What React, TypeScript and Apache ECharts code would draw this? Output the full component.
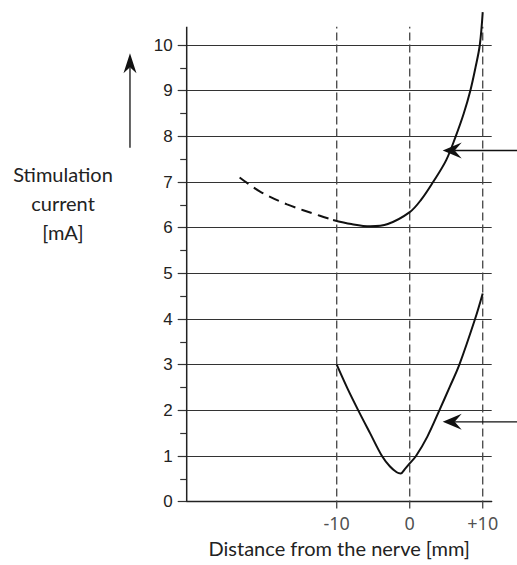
import React, { useEffect, useRef } from "react";
import * as echarts from "echarts";

// Upper curve (dashed part, then solid part)
const upperDashedX = [-23.3, -20.5, -16.8, -12.3, -10.5];
const upperDashedY = [7.1, 6.79, 6.51, 6.26, 6.17];
const upperSolidX = [-10.5, -8, -5.4, -3, 0, 1.6, 3.2, 5, 6.3, 7.4, 8.3, 9.0, 9.6, 10.0];
const upperSolidY = [6.17, 6.08, 6.03, 6.08, 6.34, 6.62, 7.0, 7.48, 8.0, 8.5, 9.0, 9.5, 10.0, 10.72];
// Lower curve
const lowerX = [-10, -8.5, -7.05, -5.4, -3.8, -2.7, -1.78, -1.23, -0.64, 0, 0.86, 2.4, 4.06, 5.5, 6.8, 8.95, 10];
const lowerY = [3.0, 2.47, 2.0, 1.49, 1.0, 0.77, 0.645, 0.62, 0.72, 0.84, 1.0, 1.42, 2.0, 2.52, 3.0, 4.0, 4.56];
// Reference (dashed) verticals
const refX = [-10, 0, 10];
const xTickLabels = [-10, 0, 10];
// Axis extents
const xMin = -30.55;
const xMax = 11.23;
const yMin = 0;
const yMax = 10;
const yAxisTop = 10.4;
const refBottom = -0.15;
// Annotation arrows: [tailX, tailY, tipX, tipY]
const arrowTailX = [14.7, 14.7, -38.32];
const arrowTailY = [7.69, 1.75, 7.75];
const arrowTipX = [4.52, 4.52, -38.32];
const arrowTipY = [7.69, 1.75, 9.82];

const zip = (xs: number[], ys: number[]) => xs.map((x, i) => [x, ys[i]]);

// arrowhead geometry (px): length, half width, notch depth
const HEADS = [
  [19, 8, 12],
  [19, 8, 12],
  [20, 6.5, 14],
];

export default function App() {
  const ref = useRef<HTMLDivElement>(null);
  useEffect(() => {
    document.body.style.margin = "0";
    const chart = echarts.init(ref.current!, undefined, { renderer: "svg" });
    const lineBase = { type: "line", symbol: "none", clip: false, silent: true } as any;
    const refSeries = refX.map((x) => ({
      ...lineBase,
      data: [
        [x, refBottom],
        [x, yAxisTop],
      ],
      lineStyle: { color: "#444", width: 1.3, type: [8, 4] },
      z: 1,
    }));
    const arrowData = arrowTailX.map((tx, i) => [tx, arrowTailY[i], arrowTipX[i], arrowTipY[i]]);
    chart.setOption({
      animation: false,
      textStyle: { fontFamily: "Lato" },
      grid: { left: 186.7, right: 25.3, top: 45, bottom: 63.3 },
      xAxis: {
        type: "value",
        min: xMin,
        max: xMax,
        axisLine: { show: true, onZero: false, lineStyle: { color: "#222", width: 1.3 } },
        axisTick: { show: false },
        splitLine: { show: false },
        axisLabel: { show: false },
        name: "Distance from the nerve [mm]",
        nameLocation: "middle",
        nameGap: 36,
        nameTextStyle: { fontFamily: "Lato", fontSize: 20, color: "#222" },
      },
      yAxis: {
        type: "value",
        min: yMin,
        max: yMax,
        interval: 1,
        axisLine: { show: false, onZero: false },
        axisTick: { show: true, length: 9, lineStyle: { color: "#333", width: 1.2 } },
        minorTick: { show: true, splitNumber: 2, length: 6.5, lineStyle: { color: "#333", width: 1.2 } },
        splitLine: { show: true, lineStyle: { color: "#333", width: 1 } },
        axisLabel: {
          fontFamily: "Liberation Sans",
          fontSize: 17,
          color: "#222",
          margin: 14,
        },
      },
      graphic: [
        {
          type: "text",
          x: 63,
          y: 203,
          style: {
            text: "Stimulation\ncurrent\n[mA]",
            font: "20px Lato",
            fill: "#222",
            textAlign: "center",
            textVerticalAlign: "middle",
            lineHeight: 29,
          },
        },
      ],
      series: [
        ...refSeries,
        {
          ...lineBase,
          data: [
            [xMin, yMin],
            [xMin, yAxisTop],
          ],
          lineStyle: { color: "#222", width: 1.5 },
          z: 3,
        },
        {
          ...lineBase,
          data: zip(upperDashedX, upperDashedY),
          smooth: 0.35,
          lineStyle: { color: "#111", width: 2, type: [11, 6.5] },
          z: 4,
        },
        {
          ...lineBase,
          data: zip(upperSolidX, upperSolidY),
          smooth: 0.35,
          lineStyle: { color: "#111", width: 2 },
          z: 4,
        },
        {
          ...lineBase,
          data: zip(lowerX, lowerY),
          smooth: 0.35,
          lineStyle: { color: "#111", width: 2 },
          z: 4,
        },
        {
          type: "scatter",
          clip: false,
          silent: true,
          symbolSize: 1,
          itemStyle: { color: "transparent" },
          data: xTickLabels.map((v) => [v, yMin]),
          label: {
            show: true,
            position: "bottom",
            distance: 12,
            formatter: (p: any) => {
              const v = p.value[0];
              return v > 0 ? "+" + v : String(v);
            },
            fontFamily: "Noto Sans",
            fontSize: 18,
            color: "#222",
          },
          z: 5,
        },
        {
          type: "custom",
          clip: false,
          silent: true,
          encode: { x: [0, 2], y: [1, 3] },
          data: arrowData,
          z: 6,
          renderItem: (params: any, api: any) => {
            const tail = api.coord([api.value(0), api.value(1)]);
            const tip = api.coord([api.value(2), api.value(3)]);
            const [len, hw, notch] = HEADS[params.dataIndex];
            const dx = tip[0] - tail[0];
            const dy = tip[1] - tail[1];
            const L = Math.hypot(dx, dy) || 1;
            const ux = dx / L;
            const uy = dy / L;
            const nx = -uy;
            const ny = ux;
            const back = [tip[0] - ux * len, tip[1] - uy * len];
            const np = [tip[0] - ux * notch, tip[1] - uy * notch];
            return {
              type: "group",
              children: [
                {
                  type: "line",
                  shape: { x1: tail[0], y1: tail[1], x2: np[0], y2: np[1] },
                  style: { stroke: "#111", lineWidth: 1.3 },
                },
                {
                  type: "polygon",
                  shape: {
                    points: [
                      tip,
                      [back[0] + nx * hw, back[1] + ny * hw],
                      np,
                      [back[0] - nx * hw, back[1] - ny * hw],
                    ],
                  },
                  style: { fill: "#111" },
                },
              ],
            };
          },
        },
      ],
    });
    return () => chart.dispose();
  }, []);
  return <div ref={ref} style={{ width: 517, height: 565 }} />;
}
